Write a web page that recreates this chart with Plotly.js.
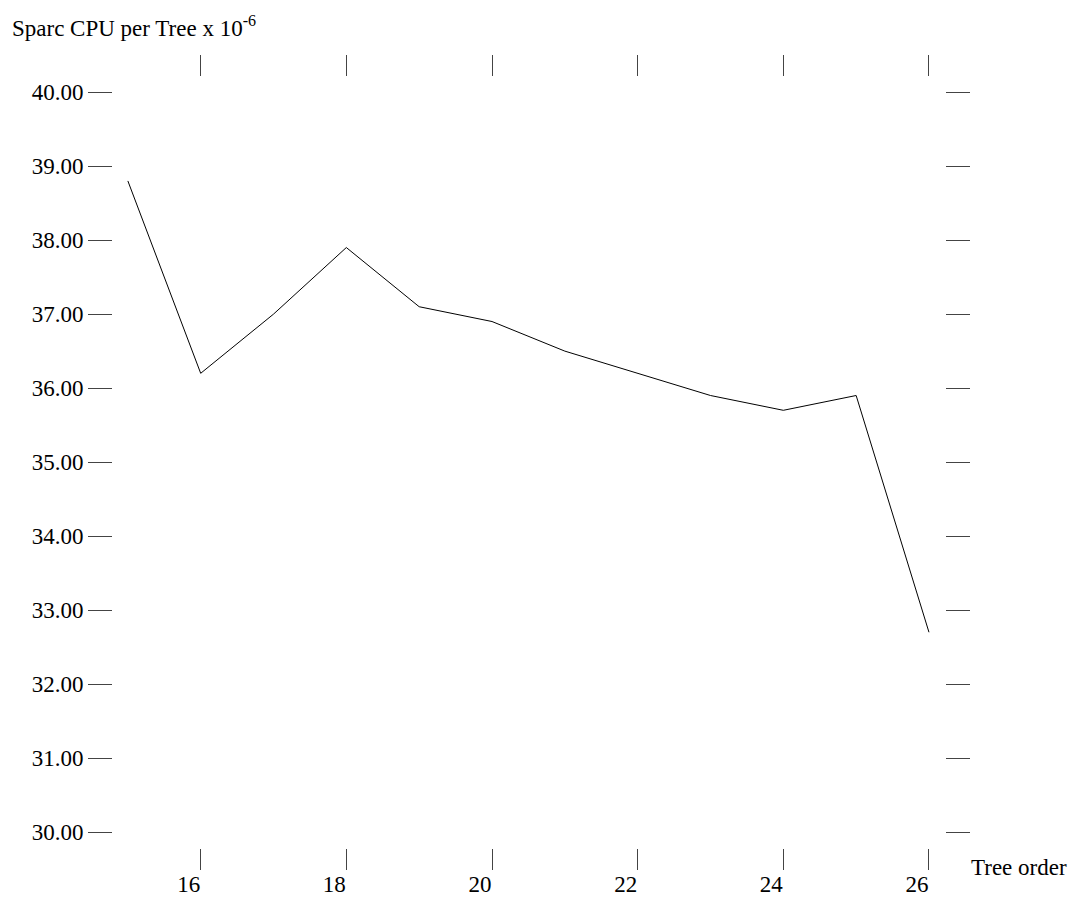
<!DOCTYPE html>
<html>
<head>
<meta charset="utf-8">
<script src="https://cdn.plot.ly/plotly-3.0.1.min.js"></script>
<style>html,body{margin:0;padding:0;background:#fff;}#chart{width:1077px;height:898px;}</style>
</head>
<body>
<div id="chart"></div>
<script>
// Data
const treeOrder = [15, 16, 17, 18, 19, 20, 21, 22, 23, 24, 25, 26];
const cpuPerTree = [38.8, 36.2, 37.0, 37.9, 37.1, 36.9, 36.5, 36.2, 35.9, 35.7, 35.9, 32.7];
const xTickVals = [16, 18, 20, 22, 24, 26];
const yTickVals = [30, 31, 32, 33, 34, 35, 36, 37, 38, 39, 40];
const yTickText = yTickVals.map(v => v.toFixed(2));
const yTitle = 'Sparc CPU per Tree x 10<sup>-6</sup>';
const xTitle = 'Tree order';

const FONT = '"Liberation Serif", "Times New Roman", serif';
const W = 1077, H = 898;
const L = 113, R = 945, T = 77, B = 848;
const px = x => (x - L) / (R - L);
const py = y => (B - y) / (B - T);

const trace = {
  x: treeOrder, y: cpuPerTree, type: 'scatter', mode: 'lines',
  line: {color: '#000', width: 1}, hoverinfo: 'skip'
};

const layout = {
  width: W, height: H,
  margin: {l: L, r: W - R, t: T, b: H - B, pad: 0},
  paper_bgcolor: '#fff', plot_bgcolor: '#fff',
  showlegend: false,
  font: {family: FONT, size: 23, color: '#000'},
  xaxis: {
    range: [14.796, 26.22], tickvals: xTickVals, ticktext: xTickVals.map(String),
    ticks: 'outside', ticklen: 21, tickwidth: 1, tickcolor: '#444',
    mirror: 'ticks', showline: false, showgrid: false, zeroline: false,
    ticklabelshift: -12, ticklabelstandoff: -6,
    tickfont: {family: FONT, size: 23, color: '#000'}
  },
  yaxis: {
    range: [29.784, 40.205], tickvals: yTickVals, ticktext: yTickText,
    ticks: 'outside', ticklen: 24, tickwidth: 1, tickcolor: '#444',
    mirror: 'ticks', showline: false, showgrid: false, zeroline: false,
    tickfont: {family: FONT, size: 23, color: '#000'}
  },
  annotations: [
    {text: yTitle, xref: 'paper', yref: 'paper', x: px(10), y: py(43),
     xanchor: 'left', yanchor: 'bottom', showarrow: false,
     font: {family: FONT, size: 23, color: '#000'}},
    {text: xTitle, xref: 'paper', yref: 'paper', x: px(969), y: py(868),
     xanchor: 'left', yanchor: 'middle', showarrow: false,
     font: {family: FONT, size: 23, color: '#000'}}
  ]
};

Plotly.newPlot('chart', [trace], layout, {displayModeBar: false, staticPlot: true});
</script>
</body>
</html>
